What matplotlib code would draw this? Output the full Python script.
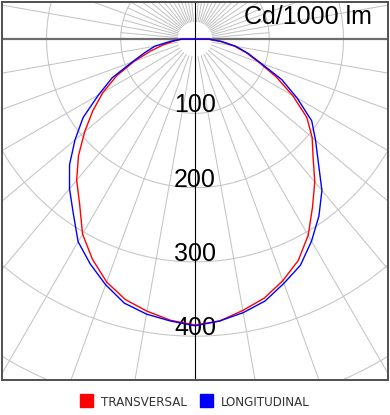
import matplotlib.pyplot as plt
import numpy as np
from matplotlib.patches import Rectangle

# gamma angle from nadir (deg), intensities in cd/1000 lm
gamma = np.arange(-90, 91, 5)
transversal = [18, 28, 43, 62, 87, 116, 143, 168, 194, 222, 248, 271, 303, 327, 348, 363, 372, 380, 385,
               381, 371, 361, 346, 329, 305, 276, 251, 225, 206, 184, 152, 121, 92, 72, 54, 34, 18]
longitudinal = [18, 33, 55, 70, 90, 123, 150, 184, 211, 239, 263, 286, 315, 334, 352, 368, 376, 381, 386,
                381, 374, 365, 350, 336, 314, 291, 266, 235, 212, 192, 159, 129, 94, 74, 56, 36, 18]
ring_values = [100, 200, 300, 400, 500, 600]
ring_labels = [100, 200, 300, 400]
unit_label = 'Cd/1000 lm'
series_names = ['TRANSVERSAL', 'LONGITUDINAL']
series_colors = ['#ff0000', '#0000ff']

W, H = 390, 415


def to_xy(ang_deg, r):
    a = np.radians(ang_deg)
    return np.asarray(r) * np.sin(a), -np.asarray(r) * np.cos(a)


def main():
    fig = plt.figure(figsize=(W / 100, H / 100), dpi=100)
    ax = fig.add_axes([2 / W, 1 - 380 / H, 386 / W, 378 / H])
    ax.set_xlim(-260, 260)
    ax.set_ylim(-459, 50)
    ax.set_xticks([])
    ax.set_yticks([])
    for sp in ax.spines.values():
        sp.set_color('#505050')
        sp.set_linewidth(1.4)

    grid_kw = dict(color='#c4c4c4', lw=0.75, zorder=1)
    t = np.linspace(0, 360, 721)
    for r in ring_values:
        x, y = to_xy(t, np.full_like(t, r))
        ax.plot(x, y, **grid_kw)

    r0 = 24
    # lower half: every 10 deg
    for a in range(-80, 81, 10):
        if a == 0:
            continue
        x, y = to_xy(a, [r0, 900])
        ax.plot(x, y, **grid_kw)
    # upper half: every 10 deg full length, 5 deg near the centre
    for a in range(100, 261, 10):
        if a == 180:
            continue
        x, y = to_xy(a, [r0, 900])
        ax.plot(x, y, **grid_kw)
    for a in range(95, 266, 10):
        x, y = to_xy(a, [r0, 100])
        ax.plot(x, y, **grid_kw)

    ax.axhline(0, color='#6e6e6e', lw=1.6, zorder=2)
    ax.axvline(0, color='black', lw=0.8, zorder=2)

    for v in ring_labels:
        ax.text(0, -v + 1.3, str(v), ha='center', va='baseline', fontsize=18,
                family='Liberation Sans', color='black', zorder=3)
    ax.text(238, 21, unit_label, ha='right', va='baseline', fontsize=18,
            family='Liberation Sans', color='black', zorder=3)

    # close each curve through the centre (no upward light)
    ang = np.concatenate([[180], gamma, [180]])
    for vals, col in zip([transversal, longitudinal], series_colors):
        r = np.concatenate([[0], vals, [0]])
        x, y = to_xy(ang, r)
        ax.plot(x, y, color=col, lw=1.0, zorder=4)

    # legend
    for i, (name, col) in enumerate(zip(series_names, series_colors)):
        sx = [80, 200][i]
        fig.patches.append(Rectangle((sx / W, 1 - 407 / H), 13 / W, 13 / H,
                                     transform=fig.transFigure, color=col))
        fig.text((sx + 21) / W, 1 - 406 / H, name, ha='left', va='baseline',
                 fontsize=9.5, family='DejaVu Sans', fontstretch='condensed',
                 color='#333333')

    fig.savefig('out.png', dpi=100)


if __name__ == '__main__':
    main()
